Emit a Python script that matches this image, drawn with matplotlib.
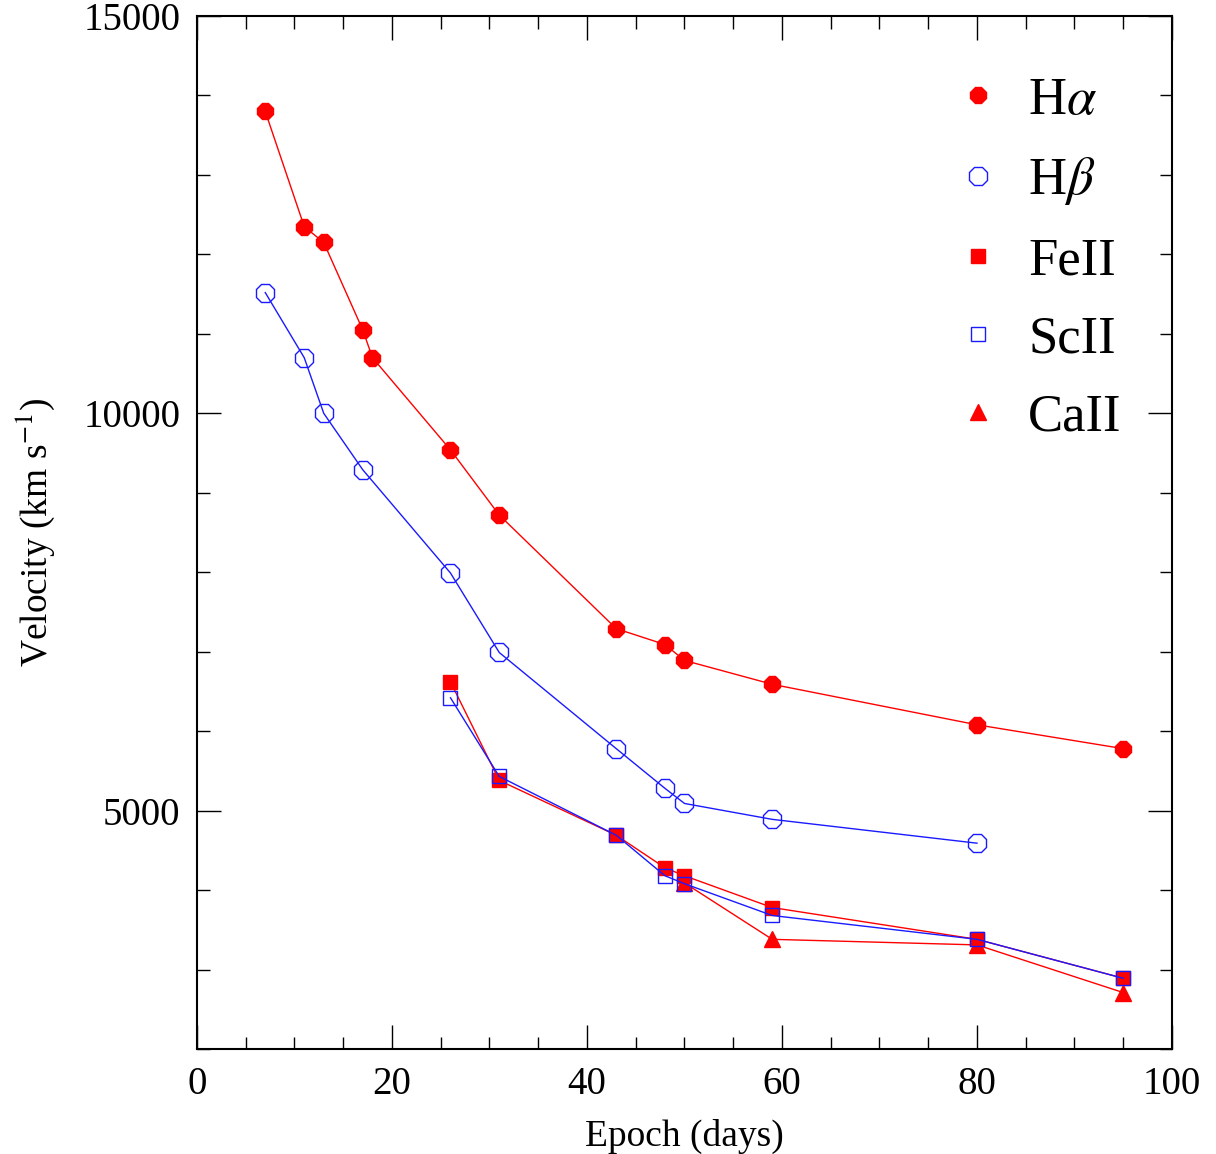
import matplotlib
matplotlib.use('Agg')
import matplotlib.pyplot as plt
from matplotlib.ticker import MultipleLocator

plt.rcParams['font.family'] = ['Liberation Serif', 'DejaVu Serif']
plt.rcParams['mathtext.fontset'] = 'stix'

# Epochs (days) and velocities (km/s)
ha_t = [7, 11, 13, 17, 18, 26, 31, 43, 48, 50, 59, 80, 95]
ha_v = [13800, 12350, 12150, 11050, 10700, 9540, 8720, 7290, 7090, 6890, 6590, 6080, 5780]

hb_t = [7, 11, 13, 17, 26, 31, 43, 48, 50, 59, 80]
hb_v = [11520, 10700, 10000, 9290, 7990, 6990, 5780, 5280, 5090, 4890, 4590]

fe_t = [26, 31, 43, 48, 50, 59, 80, 95]
fe_v = [6620, 5380, 4690, 4280, 4180, 3780, 3380, 2890]

sc_t = [26, 31, 43, 48, 50, 59, 80, 95]
sc_v = [6420, 5430, 4690, 4180, 4080, 3680, 3380, 2890]

ca_t = [50, 59, 80, 95]
ca_v = [4090, 3380, 3310, 2710]

red = '#ff0000'
blue = '#1a1aff'

fig = plt.figure(figsize=(12.16, 11.54), dpi=100)
ax = fig.add_axes([0.162, 0.091, 0.8018, 0.8951])

ax.plot(ca_t, ca_v, color=red, lw=1.0, marker='^', ms=12, mfc=red, mec=red, label='CaII', zorder=2)
ax.plot(ha_t, ha_v, color=red, lw=1.0, marker='8', ms=13, mfc=red, mec=red, label=r'H$\alpha$', zorder=3)
ax.plot(hb_t, hb_v, color=blue, lw=1.0, marker='8', ms=13.5, mfc='none', mec=blue, mew=1.0,
        label=r'H$\beta$', zorder=3)
ax.plot(fe_t, fe_v, color=red, lw=1.0, marker='s', ms=10, mfc=red, mec=red, label='FeII', zorder=3)
ax.plot(sc_t, sc_v, color=blue, lw=1.0, marker='s', ms=10, mfc='none', mec=blue, mew=1.0,
        label='ScII', zorder=4)

ax.set_xlim(0, 100)
ax.set_ylim(2000, 15000)
ax.xaxis.set_major_locator(MultipleLocator(20))
ax.xaxis.set_minor_locator(MultipleLocator(5))
ax.yaxis.set_major_locator(MultipleLocator(5000))
ax.yaxis.set_minor_locator(MultipleLocator(1000))
ax.tick_params(which='both', direction='in', top=True, right=True, labelsize=28, width=1.0)
ax.tick_params(which='major', length=17, pad=12)
ax.tick_params(which='minor', length=9)
for s in ax.spines.values():
    s.set_linewidth(1.5)

ax.set_xlabel('Epoch (days)', fontsize=27, labelpad=12)
ax.set_ylabel(r'Velocity (km s$^{-1}$)', fontsize=27, labelpad=19)

# legend in the same order as the reference
h, l = ax.get_legend_handles_labels()
order = [1, 2, 3, 4, 0]
leg = ax.legend([h[i] for i in order], [l[i] for i in order], loc='upper left',
                bbox_to_anchor=(0.736, 0.987), frameon=False, fontsize=38,
                handlelength=0.6, handletextpad=0.65, labelspacing=0.57, numpoints=1)
for lh in leg.legend_handles:
    lh.set_linestyle('none')

fig.savefig('out.png', dpi=100)
